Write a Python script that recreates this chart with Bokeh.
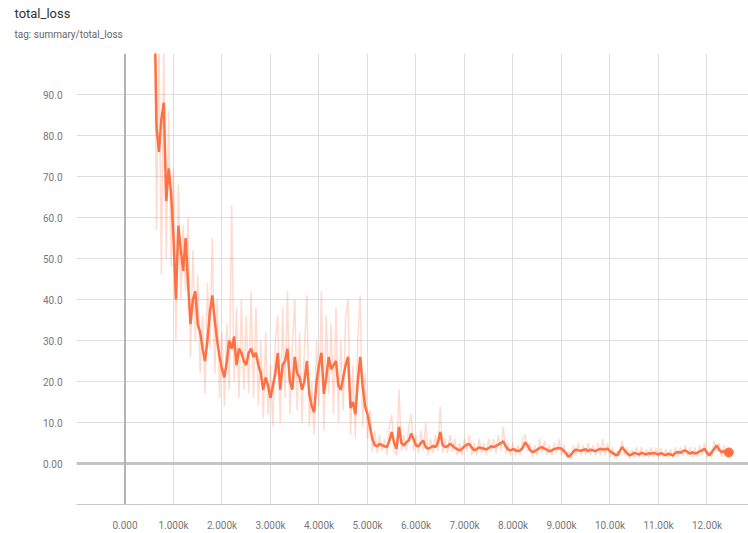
from bokeh.plotting import figure
from bokeh.models import FixedTicker, Span, Title, Range1d, ColumnDataSource
from bokeh.embed import file_html
from bokeh.resources import INLINE

TITLE = "total_loss"
SUBTITLE = "tag: summary/total_loss"

STEP_START = 600
STEP_SIZE = 50

smoothed = [
    118, 82, 76, 84, 88, 64, 72, 66, 55, 40,
    58, 52, 47, 55, 44, 34, 40, 42, 34, 32,
    28, 25, 30, 37, 41, 35, 30, 26, 23, 21,
    25, 30, 28, 31, 24, 28, 27, 25, 24, 27,
    28, 26, 27, 24, 22, 18, 21, 19, 16, 19,
    22, 27, 18, 24, 25, 28, 20, 18, 26, 22,
    21, 18, 20, 25, 17, 14, 12.5, 20, 24, 27,
    17, 21, 26, 23, 24, 25, 19, 18, 21, 24,
    26, 13.5, 15, 12, 20, 26, 19, 14, 12, 9,
    6, 4.5, 4.2, 4.8, 4.5, 4.2, 4.0, 5.5, 7.7, 5.0,
    3.6, 8.9, 5.0, 4.4, 5.2, 5.6, 7.3, 6.0, 4.4, 4.2,
    5.0, 5.6, 4.0, 3.6, 3.9, 4.3, 4.0, 5.0, 7.7, 4.5,
    4.0, 4.2, 4.8, 4.4, 3.8, 3.5, 3.2, 3.6, 4.2, 4.6,
    4.8, 3.9, 3.2, 3.5, 3.9, 3.8, 3.6, 3.4, 3.8, 4.2,
    4.0, 4.3, 4.6, 5.0, 5.4, 4.2, 3.4, 3.2, 3.5, 3.3,
    3.0, 3.2, 3.8, 5.2, 4.4, 3.3, 2.8, 3.0, 3.4, 3.8,
    4.0, 3.6, 3.4, 3.0, 3.2, 3.5, 3.7, 3.8, 3.6, 3.0,
    2.4, 1.6, 2.2, 3.0, 3.4, 3.2, 3.1, 3.3, 3.5, 3.0,
    3.4, 3.2, 3.0, 3.3, 3.6, 3.4, 3.5, 3.6, 3.0, 2.6,
    2.2, 2.0, 3.0, 4.0, 3.2, 2.5, 2.0, 2.2, 2.6, 2.4,
    2.2, 2.6, 2.4, 2.2, 2.5, 2.4, 2.6, 2.4, 2.2, 2.5,
    2.3, 2.0, 2.4, 2.2, 2.0, 2.6, 2.8, 2.6, 3.0, 3.2,
    2.8, 2.4, 2.8, 2.4, 2.6, 3.0, 3.2, 3.6, 2.6, 2.0,
    2.8, 3.6, 4.4, 3.4, 2.8, 3.0, 2.8, 2.7,
]

raw = [
    125, 57, 104, 46, 102, 50, 86, 48, 72, 30,
    68, 40, 58, 42, 60, 26, 52, 30, 46, 22,
    36, 17, 44, 28, 55, 22, 40, 16, 32, 14,
    34, 18, 63, 20, 38, 16, 40, 18, 36, 17,
    42, 16, 38, 14, 30, 11, 32, 12, 24, 9,
    30, 36, 10, 38, 16, 42, 12, 28, 40, 13,
    32, 10, 28, 41, 9, 20, 7, 30, 14, 42,
    8, 36, 17, 34, 12, 38, 10, 30, 13, 36,
    40, 7, 24, 6, 30, 41, 9, 22, 6, 13,
    3, 8, 2.5, 7, 3, 6, 2, 9, 12, 3,
    2, 18, 3, 7, 3, 9, 12, 3, 7, 2.5,
    8, 3, 10, 2, 6, 2.5, 7, 3, 14, 2.5,
    6, 2.5, 7, 3, 6, 2, 5, 2, 6, 3,
    7, 2, 5, 2, 6, 2.5, 5, 2, 6, 3,
    6, 2.5, 7, 3, 9, 2.5, 5, 2, 5, 2,
    4.5, 2, 6, 7, 3, 5, 1.5, 4.5, 2, 6,
    2.5, 5.5, 2, 4.5, 2, 5, 2.5, 6, 2, 4.5,
    1.5, 3, 1, 4.5, 2, 5, 2, 4.5, 2, 5,
    2, 4.5, 2, 5, 2, 6, 2, 5, 1.5, 4,
    1.5, 3, 2, 5.5, 2, 4, 1.2, 3.5, 1.5, 4,
    1.5, 4, 1.5, 3.5, 1.5, 4, 1.5, 3.8, 1.4, 3.8,
    1.5, 3.5, 1.2, 3.5, 1.3, 4, 1.6, 4, 1.8, 4.5,
    1.8, 4, 1.5, 4, 1.6, 4.5, 2, 5, 1.5, 3,
    1.5, 5.5, 3, 5, 1.5, 4.5, 1.8, 3.5,
]

steps = [STEP_START + STEP_SIZE * i for i in range(len(smoothed))]

x_ticks = [-1000, 0, 1000, 2000, 3000, 4000, 5000, 6000, 7000, 8000, 9000, 10000, 11000, 12000]
x_labels = ["", "0.000", "1.000k", "2.000k", "3.000k", "4.000k", "5.000k", "6.000k",
            "7.000k", "8.000k", "9.000k", "10.00k", "11.00k", "12.00k"]
y_ticks = [-10, 0, 10, 20, 30, 40, 50, 60, 70, 80, 90, 100]
y_labels = ["", "0.00", "10.0", "20.0", "30.0", "40.0", "50.0", "60.0", "70.0", "80.0", "90.0", ""]

ORANGE = "#ff7043"
FONT = "Roboto"

src = ColumnDataSource(dict(step=steps, smoothed=smoothed, raw=raw))

p = figure(width=748, height=533, output_backend="svg", toolbar_location=None,
           x_range=Range1d(-1000, 12856), y_range=Range1d(-10, 100),
           min_border_left=76, min_border_right=0, min_border_top=53, min_border_bottom=28)
p.outline_line_color = None
p.background_fill_color = "white"

p.add_layout(Title(text=SUBTITLE, text_font_size="10px", text_color="#666666",
                   text_font=FONT, text_font_style="normal", offset=-62, standoff=23,
                   vertical_align="top"), "above")
p.add_layout(Title(text=TITLE, text_font_size="13px", text_color="#333333",
                   text_font=FONT, text_font_style="normal", offset=-62, standoff=-8,
                   vertical_align="middle"), "above")

p.xaxis.ticker = FixedTicker(ticks=x_ticks)
p.xaxis.major_label_overrides = {t: l for t, l in zip(x_ticks, x_labels)}
p.yaxis.ticker = FixedTicker(ticks=y_ticks)
p.yaxis.major_label_overrides = {t: l for t, l in zip(y_ticks, y_labels)}

for ax in (p.xaxis, p.yaxis):
    ax.major_label_text_font = FONT
    ax.major_label_text_font_size = "10px"
    ax.major_label_text_color = "#777777"
    ax.major_tick_line_color = None
    ax.minor_tick_line_color = None
p.yaxis.axis_line_color = None
p.xaxis.axis_line_color = "#c8c8c8"
p.xaxis.major_label_standoff = 9
p.yaxis.major_label_standoff = 8

p.xgrid.ticker = FixedTicker(ticks=x_ticks)
p.ygrid.ticker = FixedTicker(ticks=y_ticks)
p.grid.grid_line_color = "#dedede"
p.grid.grid_line_width = 1

p.add_layout(Span(location=0, dimension="width", line_color="#c4c4c4", line_width=3))
p.add_layout(Span(location=0, dimension="height", line_color="#b4b4b4", line_width=2))

p.line("step", "raw", source=src, line_color=ORANGE, line_alpha=0.25, line_width=1.5)
p.line("step", "smoothed", source=src, line_color=ORANGE, line_width=2.5)
p.scatter([steps[-1]], [smoothed[-1]], size=9, color=ORANGE)

open("out.html", "w").write(file_html(p, INLINE))
